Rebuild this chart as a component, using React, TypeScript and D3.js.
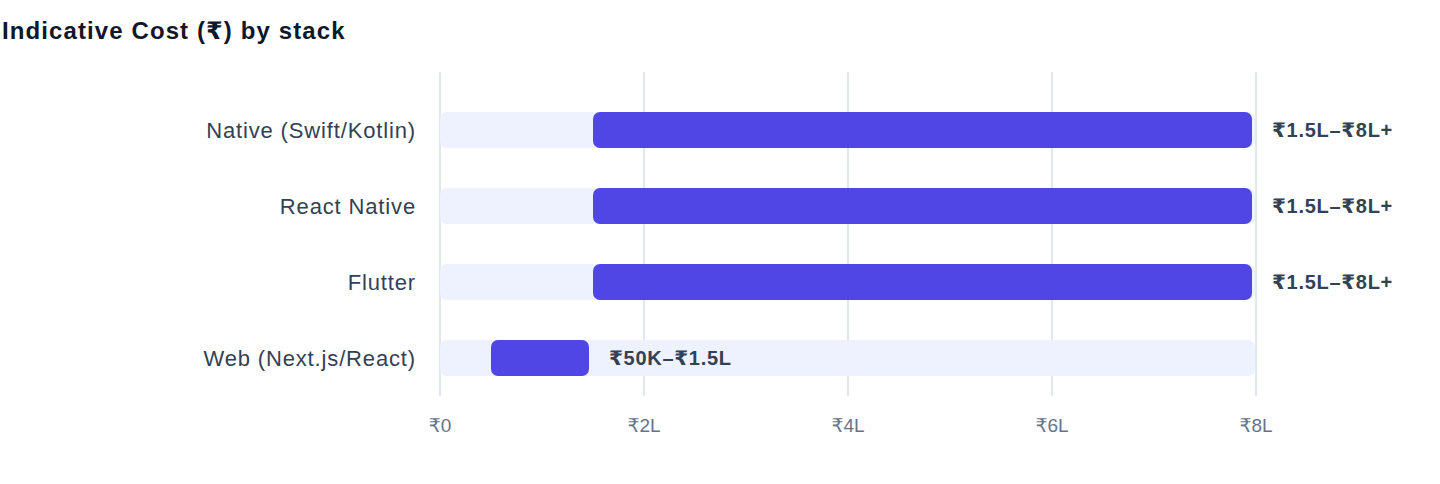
import { useEffect, useRef } from "react";
import * as d3 from "d3";

const stacks = ["Native (Swift/Kotlin)", "React Native", "Flutter", "Web (Next.js/React)"];
const lowLakh = [1.5, 1.5, 1.5, 0.5];
const highLakh = [8, 8, 8, 1.5];
const rangeLabels = ["₹1.5L–₹8L+", "₹1.5L–₹8L+", "₹1.5L–₹8L+", "₹50K–₹1.5L"];
const tickValues = [0, 2, 4, 6, 8];
const tickLabels = ["₹0", "₹2L", "₹4L", "₹6L", "₹8L"];

const W = 1440;
const H = 484;
const FONT = "'Liberation Sans', Arial, 'DejaVu Sans', sans-serif";

function drawChart(node: SVGSVGElement) {
  const svg = d3.select(node);
  svg.selectAll("*").remove();

  svg.append("rect").attr("width", W).attr("height", H).attr("fill", "white");

  svg
    .append("text")
    .attr("x", 2)
    .attr("y", 39)
    .attr("font-family", FONT)
    .attr("font-size", 24)
    .attr("font-weight", 700)
    .attr("letter-spacing", 1.1)
    .attr("fill", "#0f172a")
    .text("Indicative Cost (₹) by stack");

  const x = d3.scaleLinear().domain([0, 8]).range([440, 1256]);
  const y = d3
    .scaleBand<string>()
    .domain(stacks)
    .range([92, 396])
    .paddingInner(0.526)
    .paddingOuter(0.263);

  // grid
  svg
    .append("g")
    .selectAll("line")
    .data(tickValues)
    .join("line")
    .attr("x1", (d) => x(d))
    .attr("x2", (d) => x(d))
    .attr("y1", 72)
    .attr("y2", 396)
    .attr("stroke", "#e2e8f0")
    .attr("stroke-width", 2);

  // tick labels
  svg
    .append("g")
    .selectAll("text")
    .data(tickValues)
    .join("text")
    .attr("x", (d) => x(d))
    .attr("y", 432)
    .attr("text-anchor", "middle")
    .attr("font-family", FONT)
    .attr("font-size", 19)
    .attr("fill", "#64748b")
    .text((_, i) => tickLabels[i]);

  const rows = stacks.map((s, i) => ({ s, lo: lowLakh[i], hi: highLakh[i], label: rangeLabels[i] }));
  const bw = y.bandwidth();

  // tracks
  svg
    .append("g")
    .selectAll("rect")
    .data(rows)
    .join("rect")
    .attr("x", x(0))
    .attr("y", (d) => y(d.s)!)
    .attr("width", x(8) - x(0) - 1)
    .attr("height", bw)
    .attr("rx", 7)
    .attr("fill", "#eef2ff");

  // ranges
  svg
    .append("g")
    .selectAll("rect")
    .data(rows)
    .join("rect")
    .attr("x", (d) => x(d.lo))
    .attr("y", (d) => y(d.s)!)
    .attr("width", (d) => x(d.hi) - x(d.lo) - 4)
    .attr("height", bw)
    .attr("rx", 7)
    .attr("fill", "#4f46e5");

  // category labels
  svg
    .append("g")
    .selectAll("text")
    .data(rows)
    .join("text")
    .attr("x", 416)
    .attr("y", (d) => y(d.s)! + bw / 2)
    .attr("dy", "0.35em")
    .attr("text-anchor", "end")
    .attr("font-family", FONT)
    .attr("font-size", 22)
    .attr("letter-spacing", 0.85)
    .attr("fill", "#334155")
    .text((d) => d.s);

  // value labels
  svg
    .append("g")
    .selectAll("text")
    .data(rows)
    .join("text")
    .attr("x", (d) => x(d.hi) + 16)
    .attr("y", (d) => y(d.s)! + bw / 2)
    .attr("dy", "0.35em")
    .attr("font-family", FONT)
    .attr("font-size", 20)
    .attr("font-weight", 700)
    .attr("letter-spacing", 0.7)
    .attr("fill", "#334155")
    .text((d) => d.label);
}

export default function App() {
  const ref = useRef<SVGSVGElement>(null);

  useEffect(() => {
    if (ref.current) drawChart(ref.current);
  }, []);

  return (
    <svg
      ref={ref}
      width={W}
      height={H}
      style={{ position: "absolute", left: 0, top: 0, display: "block" }}
    />
  );
}
